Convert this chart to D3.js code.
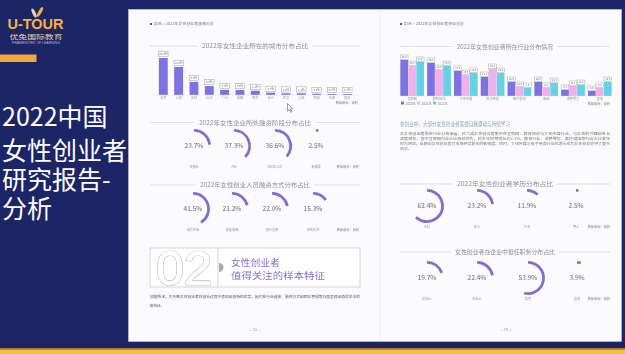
<!DOCTYPE html>
<html>
<head>
<meta charset="utf-8">
<script src="https://cdn.jsdelivr.net/npm/d3@7"></script>
<style>
html, body { margin: 0; padding: 0; background: #1c2566; overflow: hidden; }
svg { display: block; }
text { font-family: "Noto Sans CJK SC", "Noto Sans", sans-serif; }
</style>
</head>
<body>
<div id="container"></div>
<script>
let w = 625;
let h = 354;

// DATA
let titleLines = ["2022中国", "女性创业者", "研究报告-", "分析"];

let cities = ["北京", "上海", "深圳", "杭州", "广州", "成都", "南京", "苏州", "武汉", "重庆", "西安", "天津", "其他"];
let cityShare = [26.9, 20.4, 9.5, 6.5, 3.7, 3.6, 3.1, 1.7, 1.2, 1.2, 0.9, 0.7, 0.7];

let industries = ["互联网", "教育培训", "文化传媒", "电子商务", "医疗健康", "金融", "消费零售", "其他"];
let years = ["2020年", "2021年", "2022年"];
let industry2020 = [40.0, 36.7, 27.8, 21.1, 15.6, 15.6, 6.7, 5.6];
let industry2021 = [33.3, 28.9, 23.3, 30.0, 10.0, 8.9, 11.1, 8.9];
let industry2022 = [37.8, 33.3, 25.6, 25.6, 8.9, 14.4, 12.2, 15.6];

let roundLabels = ["天使轮", "A轮", "B轮及以后", "未披露"];
let roundShare = [23.7, 37.3, 36.6, 2.5];
let fundLabels = ["自有资金", "亲友借款", "银行贷款", "风险投资"];
let fundShare = [41.5, 21.2, 22.0, 15.3];
let eduLabels = ["本科", "硕士", "大专", "博士"];
let eduShare = [62.4, 23.2, 11.9, 2.5];
let roleLabels = ["创始人", "合伙人", "高管", "其他"];
let roleShare = [19.7, 22.4, 53.9, 3.9];

let purple = "#7d72e2";
let pink = "#efb0ec";
let cyan = "#64d2e6";
let ring = "#7b70d4";

let svg = d3.select("#container").append("svg")
  .attr("width", w)
  .attr("height", h);

let defs = svg.append("defs");
defs.append("filter").attr("id", "soft")
  .append("feGaussianBlur").attr("stdDeviation", 0.3);

// BACKGROUND
svg.append("rect").attr("width", w).attr("height", h).attr("fill", "#1c2566");
svg.append("rect").attr("x", 0).attr("y", 348).attr("width", w).attr("height", 1.5).attr("fill", "#b07a2a");
svg.append("rect").attr("x", 0).attr("y", 349.5).attr("width", w).attr("height", 5).attr("fill", "#f1c14f");

// LOGO
let logo = svg.append("g");
logo.append("ellipse").attr("cx", 34).attr("cy", 13).attr("rx", 1.6).attr("ry", 5)
  .attr("transform", "rotate(-25 34 13)").attr("fill", "#e9d9a8");
logo.append("ellipse").attr("cx", 40).attr("cy", 12).attr("rx", 1.6).attr("ry", 5.5)
  .attr("transform", "rotate(30 40 12)").attr("fill", "#f3b33d");
logo.append("text").attr("x", 7.5).attr("y", 29)
  .attr("font-weight", "bold").attr("font-size", 15).attr("fill", "#f3b33d")
  .attr("textLength", 56).attr("lengthAdjust", "spacingAndGlyphs")
  .style("font-family", "Liberation Sans, Arial, sans-serif")
  .text("U-TOUR");
logo.append("text").attr("x", 9.5).attr("y", 38.8).attr("font-size", 6.2).attr("fill", "#e6d3a0")
  .attr("textLength", 53).attr("lengthAdjust", "spacingAndGlyphs")
  .text("优兔国际教育");
logo.append("text").attr("x", 12).attr("y", 43.5).attr("font-size", 2.6).attr("fill", "#b9b6c8")
  .attr("textLength", 48).attr("lengthAdjust", "spacingAndGlyphs")
  .style("font-family", "Liberation Sans, Arial, sans-serif")
  .text("FRAMEWORK OF LEARNING");
svg.append("rect").attr("x", 0).attr("y", 54.5).attr("width", 36.5).attr("height", 7.5).attr("fill", "#f2a93b");

// TITLE (one multi-line text block)
let titleBase = [126, 160, 189, 218];
svg.append("text")
  .attr("font-size", 25)
  .attr("fill", "#ffffff")
  .selectAll("tspan").data(titleLines).enter()
  .append("tspan")
  .attr("x", 2)
  .attr("y", (d, i) => titleBase[i])
  .text(d => d);

// DOCUMENT
svg.append("rect").attr("x", 128.5).attr("y", 9.5).attr("width", 493).attr("height", 332)
  .attr("fill", "#fbfbfd").attr("stroke", "#c9cbd6").attr("stroke-width", 0.6);
svg.append("line").attr("x1", 380).attr("x2", 380).attr("y1", 10).attr("y2", 341)
  .attr("stroke", "#eceef3").attr("stroke-width", 0.8);

let doc = svg.append("g").attr("filter", "url(#soft)");

function tiny(g, x, y, txt, size, color, anchor, len) {
  let t = g.append("text").attr("x", x).attr("y", y)
    .attr("font-size", size).attr("fill", color)
    .attr("text-anchor", anchor || "start")
    .text(txt);
  if (len) t.attr("textLength", len).attr("lengthAdjust", "spacingAndGlyphs");
  return t;
}

function sectionTitle(x1, x2, y, txt, tw) {
  let cx = (x1 + x2) / 2;
  tiny(doc, cx, y + 2, txt, 6, "#8c8c94", "middle", tw);
  doc.append("line").attr("x1", x1).attr("x2", cx - tw / 2 - 4).attr("y1", y).attr("y2", y)
    .attr("stroke", "#cfcfd6").attr("stroke-width", 0.6);
  doc.append("line").attr("x1", cx + tw / 2 + 4).attr("x2", x2).attr("y1", y).attr("y2", y)
    .attr("stroke", "#cfcfd6").attr("stroke-width", 0.6);
}

function breadcrumb(x, y, txt) {
  doc.append("rect").attr("x", x).attr("y", y - 2).attr("width", 2).attr("height", 2).attr("fill", "#555");
  tiny(doc, x + 4, y, txt, 3.4, "#777", "start", 60);
}

let arcMaker = d3.arc().innerRadius(14.2).outerRadius(17).startAngle(0).cornerRadius(0.5);

function rings(xs, cy, values, labels, noteX) {
  let g = doc.append("g");
  let item = g.selectAll(".ringItem").data(values).enter()
    .append("g")
    .attr("class", "ringItem")
    .attr("transform", (d, i) => "translate(" + xs[i] + "," + cy + ")");
  item.append("path")
    .attr("d", d => arcMaker.endAngle(d / 100 * 2 * Math.PI)())
    .attr("fill", ring);
  item.append("text")
    .attr("y", 2.3)
    .attr("text-anchor", "middle")
    .attr("font-size", 6.6)
    .attr("fill", "#6a6a72")
    .text(d => d.toFixed(1) + "%");
  item.append("text")
    .attr("y", 22)
    .attr("text-anchor", "middle")
    .attr("font-size", 3.2)
    .attr("fill", "#999")
    .text((d, i) => labels[i]);
  tiny(g, noteX, cy + 22, "数据来源：调研", 3.2, "#888", "end");
}

// LEFT PAGE
breadcrumb(150, 25, "报告 > 2022年女性创业者画像分析");
sectionTitle(150, 360, 46, "2022年女性企业所在的城市分布占比", 106);

let xCity = d3.scaleBand().domain(cities).range([152.4, 358.2]).padding(0.42);
let yCity = d3.scaleLinear().domain([0, 30]).range([95, 53.75]);

let cityBars = doc.append("g");
cityBars.selectAll(".cbar").data(cityShare).enter()
  .append("rect")
  .attr("class", "cbar")
  .attr("x", (d, i) => xCity(cities[i]))
  .attr("y", d => yCity(d))
  .attr("width", xCity.bandwidth())
  .attr("height", d => yCity(0) - yCity(d))
  .attr("fill", purple);
cityBars.selectAll(".cbox").data(cityShare).enter()
  .append("rect")
  .attr("class", "cbox")
  .attr("x", (d, i) => xCity(cities[i]) - 0.3)
  .attr("y", d => yCity(d) - 6.5)
  .attr("width", xCity.bandwidth() + 0.6)
  .attr("height", 5.2)
  .attr("fill", "#fff")
  .attr("stroke", "#9a9aa6")
  .attr("stroke-width", 0.5);
cityBars.selectAll(".cval").data(cityShare).enter()
  .append("text")
  .attr("class", "cval")
  .attr("x", (d, i) => xCity(cities[i]) + xCity.bandwidth() / 2)
  .attr("y", d => yCity(d) - 2.8)
  .attr("text-anchor", "middle")
  .attr("font-size", 2.8)
  .attr("fill", "#666")
  .text(d => d + "%");
cityBars.selectAll(".clab").data(cities).enter()
  .append("text")
  .attr("class", "clab")
  .attr("x", d => xCity(d) + xCity.bandwidth() / 2)
  .attr("y", 99)
  .attr("text-anchor", "middle")
  .attr("font-size", 3.2)
  .attr("fill", "#999")
  .text(d => d);
doc.append("line").attr("x1", 152).attr("x2", 358).attr("y1", 95).attr("y2", 95)
  .attr("stroke", "#d8d8de").attr("stroke-width", 0.4);
tiny(doc, 358, 104, "数据来源：调研", 3.2, "#888", "end");

sectionTitle(150, 360, 122.5, "2022年女性企业所处融资阶段分布占比", 112);
rings([194, 234, 275, 316], 146, roundShare, roundLabels, 359);

sectionTitle(150, 360, 185, "2022年女性创业人员融资方式分布占比", 110);
rings([193, 232, 272, 313], 209, fundShare, fundLabels, 359);

// chapter box
doc.append("rect").attr("x", 150).attr("y", 248).attr("width", 210).attr("height", 39)
  .attr("fill", "#fff").attr("stroke", "#b9b9c4").attr("stroke-width", 0.6);
doc.append("line").attr("x1", 218).attr("x2", 218).attr("y1", 248).attr("y2", 287)
  .attr("stroke", "#b9b9c4").attr("stroke-width", 0.6);
doc.append("path").attr("d", "M219,263 A4.5,4.5 0 0,1 219,272 Z").attr("fill", "#a9a9b6");
doc.append("text").attr("x", 156).attr("y", 285)
  .attr("font-size", 48).attr("fill", "none")
  .attr("stroke", "#a2a2ae").attr("stroke-width", 1.7)
  .style("font-family", "Liberation Sans, Arial, sans-serif")
  .attr("textLength", 56).attr("lengthAdjust", "spacingAndGlyphs")
  .text("02");
doc.append("text").attr("x", 156).attr("y", 285)
  .attr("font-size", 48).attr("fill", "#fff")
  .attr("stroke", "#fff").attr("stroke-width", 0.9)
  .style("font-family", "Liberation Sans, Arial, sans-serif")
  .attr("textLength", 56).attr("lengthAdjust", "spacingAndGlyphs")
  .text("02");
tiny(doc, 231, 266, "女性创业者", 8.6, "#7c70d8", "start", 49);
tiny(doc, 231, 278.5, "值得关注的样本特征", 8.6, "#7c70d8", "start", 94);

tiny(doc, 150, 298, "如前所述，大多数女性创业者在创业过程中表现出独特的优势，她们在行业选择、融资方式和团队管理等方面呈现出值得关注的", 3.6, "#555", "start", 210);
tiny(doc, 150, 306.5, "新特征。", 3.6, "#555", "start", 14);
tiny(doc, 255, 331, "— 13 —", 3.4, "#888", "middle");

// RIGHT PAGE
breadcrumb(400, 25, "报告 > 2022年女性创业者特征分析");
sectionTitle(400, 610, 46.5, "2022年女性创业者所在行业分布情况", 96);

let xInd = d3.scaleBand().domain(industries).range([400, 612]).paddingInner(0.09);
let xYear = d3.scaleBand().domain(years).range([0, xInd.bandwidth()]).padding(0.04);
let yInd = d3.scaleLinear().domain([0, 50]).range([96, 51]);
let indColors = d3.scaleOrdinal().domain(years).range([purple, pink, cyan]);

let indRows = industries.map((d, i) => ({
  name: d,
  vals: [industry2020[i], industry2021[i], industry2022[i]]
}));

let groups = doc.selectAll(".grp").data(indRows).enter()
  .append("g")
  .attr("class", "grp")
  .attr("transform", d => "translate(" + xInd(d.name) + ",0)");
groups.selectAll("rect.ib").data(d => d.vals).enter()
  .append("rect")
  .attr("class", "ib")
  .attr("x", (d, j) => xYear(years[j]))
  .attr("y", d => yInd(d))
  .attr("width", xYear.bandwidth())
  .attr("height", d => yInd(0) - yInd(d))
  .attr("fill", (d, j) => indColors(years[j]));
groups.selectAll("rect.ibox").data(d => d.vals).enter()
  .append("rect")
  .attr("class", "ibox")
  .attr("x", (d, j) => xYear(years[j]))
  .attr("y", d => yInd(d) - 5)
  .attr("width", xYear.bandwidth())
  .attr("height", 4.4)
  .attr("fill", "#fff")
  .attr("stroke", "#9a9aa6")
  .attr("stroke-width", 0.45);
groups.selectAll("text.iv").data(d => d.vals).enter()
  .append("text")
  .attr("class", "iv")
  .attr("x", (d, j) => xYear(years[j]) + xYear.bandwidth() / 2)
  .attr("y", d => yInd(d) - 1.8)
  .attr("text-anchor", "middle")
  .attr("font-size", 2.6)
  .attr("fill", "#666")
  .text(d => d.toFixed(1));
doc.selectAll(".ilab").data(industries).enter()
  .append("text")
  .attr("class", "ilab")
  .attr("x", d => xInd(d) + xInd.bandwidth() / 2)
  .attr("y", 99.5)
  .attr("text-anchor", "middle")
  .attr("font-size", 3.2)
  .attr("fill", "#999")
  .text(d => d);
doc.append("line").attr("x1", 400).attr("x2", 612).attr("y1", 96).attr("y2", 96)
  .attr("stroke", "#d8d8de").attr("stroke-width", 0.4);

let legend = doc.selectAll(".leg").data(years).enter()
  .append("g")
  .attr("class", "leg")
  .attr("transform", (d, i) => "translate(" + (401 + i * 16) + ",104)");
legend.append("rect").attr("y", -2.5).attr("width", 3).attr("height", 3).attr("fill", d => indColors(d));
legend.append("text").attr("x", 4.5).attr("y", 0.5).attr("font-size", 3.2).attr("fill", "#888").text(d => d);
tiny(doc, 610, 104.5, "数据来源：调研", 3.2, "#888", "end");

tiny(doc, 400, 126, "在创业中，大部分女性创业者需要自我驱动与持续学习", 5.3, "#8e9cb8", "start", 110);
tiny(doc, 400, 134.5, "从女性创业者所在行业分布来看，近六成女性创业者集中在互联网、教育培训与文化传媒行业，与女性的兴趣和专长", 3.6, "#777", "start", 210);
tiny(doc, 400, 139.5, "高度相关。其中互联网行业占比持续领先，较去年同期增长约2.1%，教育行业、消费零售、医疗健康等行业占比变化", 3.6, "#777", "start", 210);
tiny(doc, 400, 144.5, "较为明显，反映出女性创业者对市场环境变化的敏锐度。同时，文化传媒与电子商务行业的增长也为女性创业提供了更多", 3.6, "#777", "start", 210);
tiny(doc, 400, 150, "机会。", 3.6, "#777", "start", 12);

sectionTitle(400, 610, 184, "2022年女性创业者学历分布占比", 96);
rings([427, 477, 527, 576], 206, eduShare, eduLabels, 610);

sectionTitle(400, 610, 252, "女性创业者在企业中担任职务分布占比", 100);
rings([427, 477, 528, 577], 278, roleShare, roleLabels, 610);

tiny(doc, 506, 331, "— 14 —", 3.4, "#888", "middle");

// cursor
svg.append("path")
  .attr("d", "M287.5,103.5 L287.5,111 L289.3,109.4 L290.6,112.3 L291.6,111.8 L290.4,109 L292.6,108.8 Z")
  .attr("fill", "#fff").attr("stroke", "#333").attr("stroke-width", 0.5);
</script>
</body>
</html>
